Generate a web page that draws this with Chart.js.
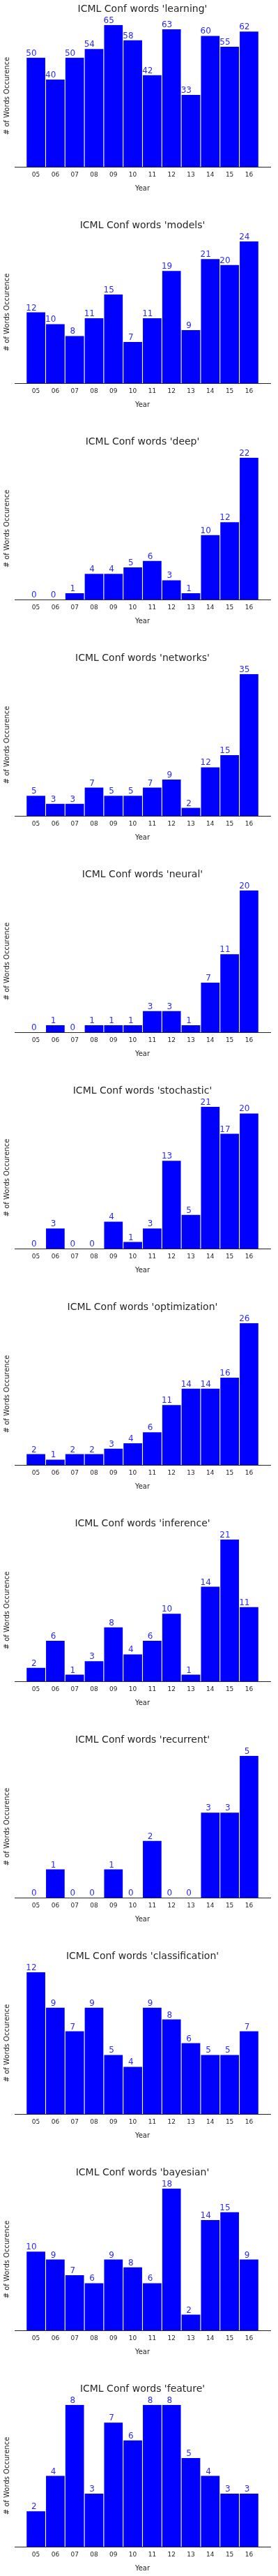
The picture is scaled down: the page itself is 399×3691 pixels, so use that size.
<!DOCTYPE html>
<html>
<head>
<meta charset="utf-8">
<title>ICML Conf words</title>
<script src="https://cdn.jsdelivr.net/npm/chart.js@4.4.1/dist/chart.umd.min.js"></script>
<style>
  html, body { margin: 0; padding: 0; background: #fff; overflow: hidden; }
  canvas { display: block; }
</style>
</head>
<body>
<div id="charts"></div>
<script>
// Datos
const years = ['05', '06', '07', '08', '09', '10', '11', '12', '13', '14', '15', '16'];

const learning       = [50, 40, 50, 54, 65, 58, 42, 63, 33, 60, 55, 62];
const models         = [12, 10, 8, 11, 15, 7, 11, 19, 9, 21, 20, 24];
const deep           = [0, 0, 1, 4, 4, 5, 6, 3, 1, 10, 12, 22];
const networks       = [5, 3, 3, 7, 5, 5, 7, 9, 2, 12, 15, 35];
const neural         = [0, 1, 0, 1, 1, 1, 3, 3, 1, 7, 11, 20];
const stochastic     = [0, 3, 0, 0, 4, 1, 3, 13, 5, 21, 17, 20];
const optimization   = [2, 1, 2, 2, 3, 4, 6, 11, 14, 14, 16, 26];
const inference      = [2, 6, 1, 3, 8, 4, 6, 10, 1, 14, 21, 11];
const recurrent      = [0, 1, 0, 0, 1, 0, 2, 0, 0, 3, 3, 5];
const classification = [12, 9, 7, 9, 5, 4, 9, 8, 6, 5, 5, 7];
const bayesian       = [10, 9, 7, 6, 9, 8, 6, 18, 2, 14, 15, 9];
const feature        = [2, 4, 8, 3, 7, 6, 8, 8, 5, 4, 3, 3];

const words = [
    ['learning', learning],
    ['models', models],
    ['deep', deep],
    ['networks', networks],
    ['neural', neural],
    ['stochastic', stochastic],
    ['optimization', optimization],
    ['inference', inference],
    ['recurrent', recurrent],
    ['classification', classification],
    ['bayesian', bayesian],
    ['feature', feature]
];

const FONT = '"DejaVu Sans", sans-serif';
const TEXT = '#262626';

// Etiquetas de valor encima de cada barra
const valueLabels = {
    id: 'valueLabels',
    afterDatasetsDraw(chart) {
        const ctx = chart.ctx;
        const meta = chart.getDatasetMeta(0);
        const values = chart.data.datasets[0].data;
        ctx.save();
        ctx.font = '12px ' + FONT;
        ctx.fillStyle = '#2b2bff';
        ctx.textAlign = 'right';
        ctx.textBaseline = 'alphabetic';
        meta.data.forEach((bar, i) => {
            ctx.fillText(String(values[i].y), bar.x + 1, bar.y - 3);
        });
        ctx.restore();
    }
};

const container = document.getElementById('charts');

words.forEach(([word, values]) => {
    const canvas = document.createElement('canvas');
    canvas.width = 399;
    canvas.height = 310;
    canvas.style.width = '399px';
    canvas.style.height = '310px';
    container.appendChild(canvas);

    new Chart(canvas.getContext('2d'), {
        type: 'bar',
        data: {
            datasets: [{
                data: values.map((v, i) => ({ x: i, y: v })),
                backgroundColor: '#0000ff',
                borderWidth: 0,
                barPercentage: 0.96,
                categoryPercentage: 1.0
            }]
        },
        options: {
            responsive: false,
            animation: false,
            devicePixelRatio: 1,
            events: [],
            layout: {
                padding: { left: 0, right: 11, top: 0, bottom: 34 }
            },
            plugins: {
                legend: { display: false },
                tooltip: { enabled: false },
                title: {
                    display: true,
                    text: "ICML Conf words '" + word + "'",
                    color: TEXT,
                    fullSize: false,
                    font: { family: FONT, size: 14, weight: 'normal' },
                    padding: { top: 5, bottom: 14 }
                }
            },
            scales: {
                x: {
                    type: 'linear',
                    min: -1.1,
                    max: 12.1,
                    offset: false,
                    afterBuildTicks: (scale) => {
                        scale.ticks = years.map((_, i) => ({ value: i }));
                    },
                    ticks: {
                        autoSkip: false,
                        maxRotation: 0,
                        padding: 6,
                        color: TEXT,
                        font: { family: FONT, size: 9 },
                        callback: (value) => years[value]
                    },
                    grid: { display: false, drawTicks: false, offset: false },
                    border: { display: true, color: TEXT, width: 1 },
                    title: {
                        display: true,
                        text: 'Year',
                        color: TEXT,
                        font: { family: FONT, size: 10 },
                        padding: { top: 2, bottom: 0 }
                    }
                },
                y: {
                    min: 0,
                    max: Math.max(...values),
                    ticks: { display: false },
                    grid: { display: false, drawTicks: false },
                    border: { display: false },
                    title: {
                        display: true,
                        text: '# of Words Occurence',
                        color: TEXT,
                        font: { family: FONT, size: 10 },
                        padding: { top: 4, bottom: 5 }
                    }
                }
            }
        },
        plugins: [valueLabels]
    });
});
</script>
</body>
</html>
